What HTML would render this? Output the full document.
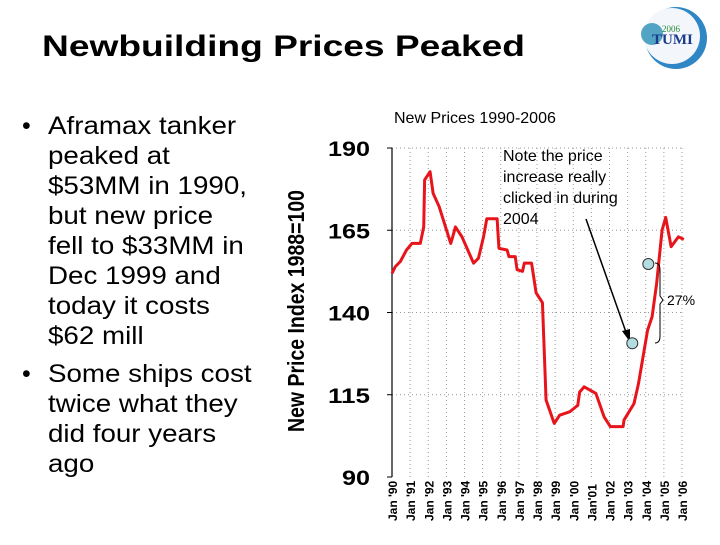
<!DOCTYPE html>
<html><head><meta charset="utf-8"><style>
body{margin:0;width:720px;height:540px;background:#fff;overflow:hidden;font-family:"Liberation Sans",sans-serif}
</style></head><body>
<svg width="720" height="540" xmlns="http://www.w3.org/2000/svg" font-family="Liberation Sans, sans-serif">
<text x="42" y="56" font-size="30" font-weight="bold" fill="#000" textLength="483" lengthAdjust="spacingAndGlyphs">Newbuilding Prices Peaked</text>
<g>
<circle cx="676" cy="38" r="31" fill="#2f86c4"/>
<circle cx="672" cy="36" r="28" fill="#f3f6fa"/>
<circle cx="652" cy="34" r="11" fill="#2a8fb8" opacity="0.8"/>
<text x="662" y="32" font-size="9" fill="#2a8a3a" font-family="Liberation Serif, serif">2006</text>
<text x="652" y="44" font-size="15" font-weight="bold" fill="#1a3a8a" font-family="Liberation Serif, serif">TUMI</text>
</g>
<g font-size="25" fill="#000">
<text x="22" y="134">•</text>
<text x="22" y="382">•</text>
<g transform="translate(48,0) scale(1.11,1)">
<text x="0" y="134">Aframax tanker</text>
<text x="0" y="164">peaked at</text>
<text x="0" y="194">$53MM in 1990,</text>
<text x="0" y="224">but new price</text>
<text x="0" y="254">fell to $33MM in</text>
<text x="0" y="284">Dec 1999 and</text>
<text x="0" y="314">today it costs</text>
<text x="0" y="344">$62 mill</text>
<text x="0" y="382">Some ships cost</text>
<text x="0" y="412">twice what they</text>
<text x="0" y="442">did four years</text>
<text x="0" y="472">ago</text>
</g>
</g>
<text x="394" y="123" font-size="16">New Prices 1990-2006</text>
<text transform="translate(304,432) rotate(-90)" font-size="23" font-weight="bold" textLength="242" lengthAdjust="spacingAndGlyphs">New Price Index 1988=100</text>
<g id="chart"></g>
<text x="503" y="161" font-size="16"><tspan x="503" y="161">Note the price</tspan><tspan x="503" y="182">increase really</tspan><tspan x="503" y="203">clicked in during</tspan><tspan x="503" y="224">2004</tspan></text>
<line x1="586" y1="219" x2="627" y2="335" stroke="#000" stroke-width="1.5"/>
<polygon points="630,342 622,331 630,329" fill="#000"/>
<circle cx="648.3" cy="264" r="5.5" fill="#b3dde3" stroke="#333"/>
<circle cx="632.3" cy="343.3" r="5.5" fill="#b3dde3" stroke="#333"/>
<path d="M655,263 Q660,263 660,270 L660,296 L663,300 L660,304 L660,336 Q660,343 655,343" fill="none" stroke="#000"/>
<text x="667" y="305" font-size="14">27%</text>
</svg>
<script>
const yTicks=[190,165,140,115,90];
const xLabels=["Jan '90","Jan '91","Jan '92","Jan '93","Jan '94","Jan '95","Jan '96","Jan '97","Jan '98","Jan '99","Jan '00","Jan'01","Jan '02","Jan '03","Jan '04","Jan '05","Jan '06"];
const years=[0,0.18,0.46,0.8,1.1,1.56,1.75,1.8,2.1,2.27,2.6,3.24,3.35,3.5,3.86,4.5,4.77,5.05,5.23,5.8,5.9,6.35,6.45,6.8,6.9,7.2,7.3,7.7,7.95,8.3,8.5,8.95,9.25,9.8,10.25,10.35,10.6,11.25,11.7,12.05,12.75,12.8,13.35,13.6,14.1,14.35,14.6,14.9,15.1,15.4,15.8,16.1];
const prices=[151.9,153.9,155.5,159,161,161,166,180.3,182.8,176.2,172.2,161,163,166,163,155,156.5,163,168.5,168.5,159.5,159,157,157,153,152.5,155,155,146,143,113.4,106.3,108.8,109.8,111.8,115.8,117.4,115.4,108.3,105.3,105.3,107.3,112.3,118.4,134.6,138.7,148.8,165,168.9,160,163,162.2];
const NS="http://www.w3.org/2000/svg";
const g=document.getElementById('chart');
const x0=392,x1=682,xMax=16,y0=477,y1=148,vMin=90,vMax=190;
const X=t=>x0+(x1-x0)*t/xMax;
const Y=v=>y0-(y0-y1)*(v-vMin)/(vMax-vMin);
function mk(tag,a){const e=document.createElementNS(NS,tag);for(const k in a)e.setAttribute(k,a[k]);g.appendChild(e);return e;}
xLabels.forEach((l,i)=>{
 if(i>0){const e=mk('line',{x1:X(i),x2:X(i),y1:y1,y2:y0,stroke:'#999','stroke-dasharray':'1,3'});
 }
 const t=mk('text',{transform:`translate(${X(i)+5},521) rotate(-90)`,'font-size':'12','font-weight':'bold'});
 t.textContent=l;
});
const e0=mk('line',{x1:X(xMax),x2:X(xMax),y1:y1,y2:y0,stroke:'#999','stroke-dasharray':'1,3'});

yTicks.forEach(v=>{
 if(v!==vMin){const e=mk('line',{x1:x0,x2:x1,y1:Y(v),y2:Y(v),stroke:'#999','stroke-dasharray':'1,3'});
 }
 mk('line',{x1:x0-5,x2:x0,y1:Y(v),y2:Y(v),stroke:'#000'});
 const s=String(v);
 const w=s.length*14;
 const t=mk('text',{x:370-w,y:Y(v)+8,'font-size':'21','font-weight':'bold',textLength:w,lengthAdjust:'spacingAndGlyphs'});
 t.textContent=v;
});
const ax=mk('line',{x1:x0,x2:x0,y1:y1,y2:y0,stroke:'#000','stroke-width':'1.2'});

const p=mk('polyline',{points:years.map((t,i)=>X(t)+','+Y(prices[i])).join(' '),fill:'none',stroke:'#e8141b','stroke-width':'3','stroke-linejoin':'round'});


</script>
</body></html>
